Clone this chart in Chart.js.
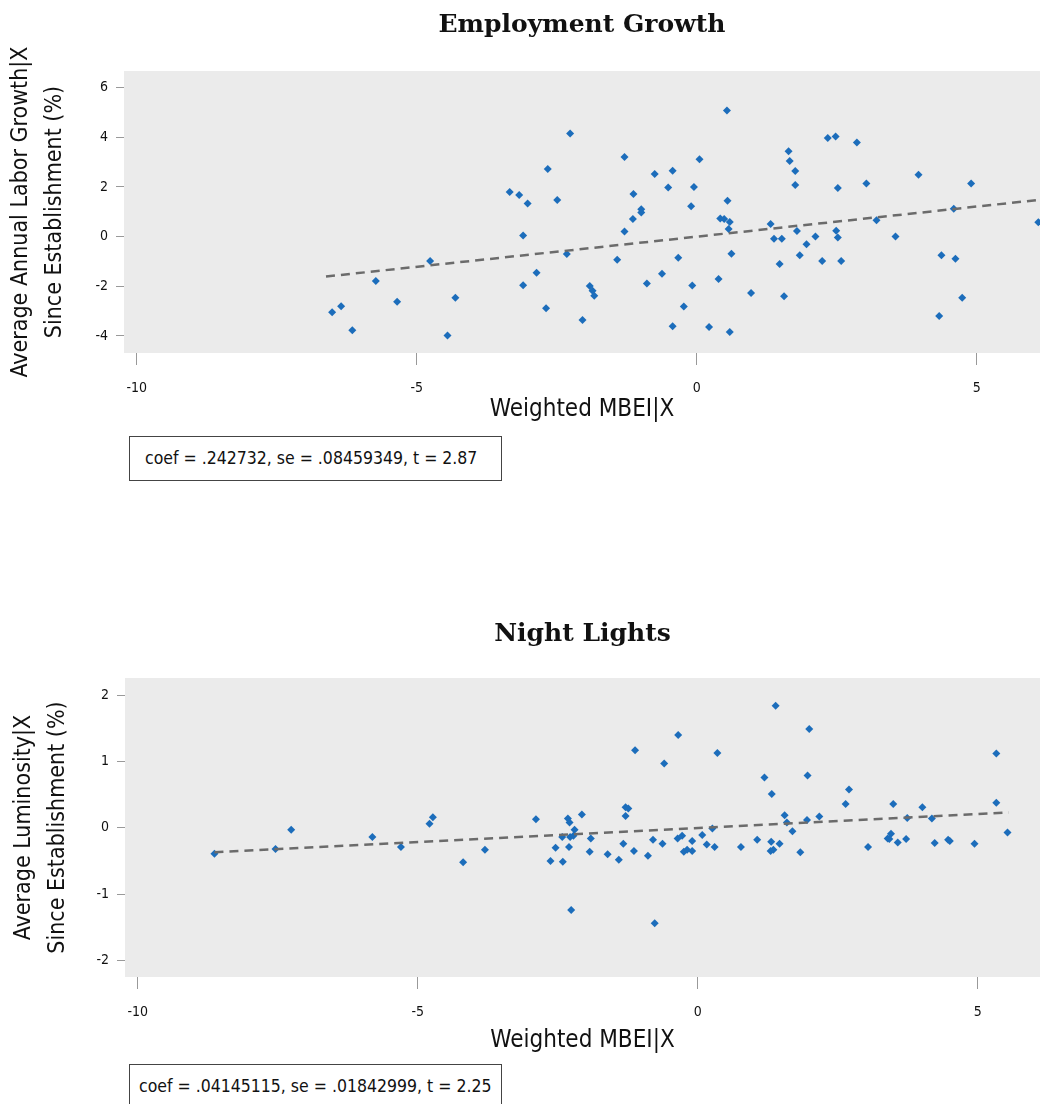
<!DOCTYPE html>
<html>
<head>
<meta charset="utf-8">
<script src="https://cdn.jsdelivr.net/npm/chart.js@4.4.0/dist/chart.umd.min.js"></script>
<style>
  html, body { margin: 0; padding: 0; background: #fff; }
  body { width: 1040px; height: 1104px; position: relative; overflow: hidden; }
  .wrap { position: absolute; left: 0; width: 1040px; }
  .statbox {
    position: absolute; left: 129px; width: 373px; height: 45px;
    border: 1px solid #444; box-sizing: border-box; background: #fff;
    font-family: 'Liberation Sans Narrow', 'DejaVu Sans Condensed', Roboto, sans-serif;
    font-size: 17.5px; color: #111; line-height: 43px; white-space: nowrap;
  }
</style>
</head>
<body>
<div class="wrap" style="top:0;height:430px"><canvas id="empChart"></canvas></div>
<div class="statbox" style="top:436px;padding-left:15px">coef = .242732, se = .08459349, t = 2.87</div>
<div class="wrap" style="top:600px;height:460px"><canvas id="lightsChart"></canvas></div>
<div class="statbox" style="top:1064px;padding-left:9px">coef = .04145115, se = .01842999, t = 2.25</div>

<script>
// --- Employment Growth (top panel) ---
const empX = [-6.51, -6.35, -6.15, -5.73, -5.35, -4.76, -4.45, -4.31, -3.34, -3.17,
  -3.02, -3.10, -3.10, -2.86, -2.66, -2.49, -2.69, -2.32, -2.26, -2.04,
  -1.91, -1.86, -1.83, -1.42, -1.29, -1.29, -1.13, -1.14, -0.99, -0.99,
  -0.89, -0.75, -0.62, -0.51, -0.43, -0.43, -0.33, -0.23, -0.10, -0.08,
  -0.05, 0.05, 0.22, 0.39, 0.42, 0.49, 0.54, 0.55, 0.59, 0.57,
  0.62, 0.59, 0.97, 1.32, 1.38, 1.52, 1.48, 1.56, 1.64, 1.66,
  1.76, 1.76, 1.79, 1.84, 1.96, 2.12, 2.24, 2.34, 2.48, 2.52,
  2.49, 2.52, 2.58, 2.86, 3.03, 3.21, 3.55, 3.96, 4.33, 4.37,
  4.59, 4.62, 4.74, 4.90, 6.10];
const empY = [-3.05, -2.81, -3.77, -1.79, -2.63, -0.98, -3.99, -2.46, 1.80, 1.67,
  1.33, 0.04, -1.96, -1.46, 2.72, 1.47, -2.89, -0.70, 4.15, -3.36,
  -1.99, -2.18, -2.38, -0.93, 3.21, 0.20, 1.72, 0.71, 1.10, 0.97,
  -1.89, 2.52, -1.50, 1.98, 2.65, -3.61, -0.85, -2.82, 1.22, -1.97,
  2.00, 3.11, -3.64, -1.71, 0.73, 0.71, 5.08, 1.44, 0.59, 0.31,
  -0.69, -3.84, -2.27, 0.51, -0.09, -0.09, -1.10, -2.40, 3.44, 3.04,
  2.64, 2.08, 0.22, -0.75, -0.31, 0.00, -0.98, 3.97, 4.03, 1.96,
  0.23, -0.04, -0.98, 3.79, 2.14, 0.66, 0.00, 2.49, -3.20, -0.75,
  1.12, -0.89, -2.46, 2.14, 0.58];
const empFitX = [-6.62, 6.2];
const empFitY = [-1.61, 1.50];
const empXTicks = [-10, -5, 0, 5];
const empYTicks = [-4, -2, 0, 2, 4, 6];

// --- Night Lights (bottom panel) ---
const lightX = [-8.63, -7.54, -7.26, -5.81, -5.30, -4.79, -4.73, -4.19, -3.80, -2.89,
  -2.63, -2.54, -2.41, -2.42, -2.32, -2.29, -2.30, -2.28, -2.26, -2.22,
  -2.20, -2.07, -1.93, -1.91, -1.61, -1.41, -1.33, -1.29, -1.24, -1.29,
  -1.14, -1.12, -0.89, -0.80, -0.77, -0.63, -0.60, -0.35, -0.36, -0.28,
  -0.25, -0.19, -0.10, -0.10, 0.08, 0.16, 0.26, 0.30, 0.35, 0.77,
  1.06, 1.19, 1.31, 1.30, 1.35, 1.32, 1.39, 1.46, 1.55, 1.59,
  1.69, 1.83, 1.96, 1.95, 1.99, 2.17, 2.64, 2.70, 3.04, 3.39,
  3.45, 3.42, 3.49, 3.57, 3.72, 3.74, 4.01, 4.18, 4.23, 4.47,
  4.50, 4.94, 5.33, 5.33, 5.53];
const lightY = [-0.39, -0.32, -0.03, -0.14, -0.29, 0.06, 0.16, -0.52, -0.33, 0.13,
  -0.50, -0.30, -0.51, -0.14, 0.14, 0.08, -0.29, -0.14, -1.24, -0.12,
  -0.03, 0.20, -0.36, -0.16, -0.40, -0.48, -0.24, 0.31, 0.29, 0.18,
  -0.35, 1.17, -0.42, -0.18, -1.44, -0.24, 0.97, 1.40, -0.16, -0.12,
  -0.36, -0.33, -0.35, -0.20, -0.11, -0.25, -0.01, -0.29, 1.13, -0.29,
  -0.18, 0.76, -0.21, -0.35, -0.33, 0.51, 1.84, -0.24, 0.19, 0.08,
  -0.05, -0.37, 0.79, 0.12, 1.49, 0.17, 0.36, 0.58, -0.29, -0.16,
  -0.09, -0.17, 0.36, -0.22, -0.17, 0.15, 0.31, 0.14, -0.23, -0.18,
  -0.20, -0.24, 1.12, 0.38, -0.07];
const lightFitX = [-8.63, 5.55];
const lightFitY = [-0.367, 0.231];
const lightXTicks = [-10, -5, 0, 5];
const lightYTicks = [-2, -1, 0, 1, 2];

const narrow = "'Liberation Sans Narrow', 'DejaVu Sans Condensed', Roboto, sans-serif";
const serif = "'DejaVu Serif', 'Liberation Serif', serif";
const dotColor = '#1c6dbb';

// fundo cinza só na área do gráfico
const plotBg = {
  id: 'plotBg',
  beforeDraw(chart) {
    const a = chart.chartArea, ctx = chart.ctx;
    ctx.save();
    ctx.fillStyle = '#ebebeb';
    ctx.fillRect(a.left, a.top, a.right - a.left, a.bottom - a.top);
    ctx.restore();
  }
};

function toPts(xs, ys) {
  return xs.map((x, i) => ({ x: x, y: ys[i] }));
}

function makeChart(id, cfg) {
  const ctx = document.getElementById(id).getContext('2d');
  return new Chart(ctx, {
    type: 'scatter',
    data: {
      datasets: [
        {
          data: toPts(cfg.xs, cfg.ys),
          pointStyle: 'rectRot',
          pointRadius: 4,
          pointBorderWidth: 0,
          backgroundColor: dotColor,
          borderColor: dotColor,
          order: 2
        },
        {
          type: 'line',
          data: toPts(cfg.fitX, cfg.fitY),
          borderColor: '#6b6b6b',
          borderWidth: 2.5,
          borderDash: [9, 6],
          pointRadius: 0,
          fill: false,
          order: 1
        }
      ]
    },
    options: {
      responsive: true,
      maintainAspectRatio: false,
      animation: false,
      layout: { padding: 0, autoPadding: false },
      plugins: {
        legend: { display: false },
        tooltip: { enabled: false },
        title: {
          display: true,
          text: cfg.title,
          fullSize: false,
          color: '#111',
          font: { family: serif, size: 25, weight: 'bold', lineHeight: 1.2 },
          padding: cfg.titlePad
        }
      },
      scales: {
        x: {
          type: 'linear',
          min: cfg.xMin, max: cfg.xMax,
          afterBuildTicks: s => { s.ticks = cfg.xTicks.map(v => ({ value: v })); },
          afterFit: s => { s.height = cfg.xHeight; },
          border: { display: false },
          grid: { drawOnChartArea: false, drawTicks: true, tickLength: 12, color: '#999', lineWidth: 1 },
          ticks: { color: '#111', padding: 15, maxRotation: 0, font: { family: narrow, size: 14 } },
          title: {
            display: true, text: 'Weighted MBEI|X', color: '#111',
            font: { family: narrow, size: 24, lineHeight: 1.2 },
            padding: { top: 0, bottom: cfg.xTitleBottom }
          }
        },
        y: {
          type: 'linear',
          min: cfg.yMin, max: cfg.yMax,
          afterBuildTicks: s => { s.ticks = cfg.yTicks.map(v => ({ value: v })); },
          afterFit: s => { s.width = cfg.yWidth; },
          border: { display: false },
          grid: { drawOnChartArea: false, drawTicks: true, tickLength: 8, color: '#999', lineWidth: 1 },
          ticks: { color: '#111', padding: 8, font: { family: narrow, size: 14 } },
          title: {
            display: true, text: cfg.yTitle, color: '#111',
            font: { family: narrow, size: 23, lineHeight: 34 / 23 },
            padding: { top: cfg.yTitleTop, bottom: 0 }
          }
        }
      }
    },
    plugins: [plotBg]
  });
}

makeChart('empChart', {
  xs: empX, ys: empY, fitX: empFitX, fitY: empFitY,
  xTicks: empXTicks, yTicks: empYTicks,
  xMin: -10.227, xMax: 6.13, yMin: -4.69, yMax: 6.67,
  title: 'Employment Growth', titlePad: { top: 10, bottom: 31 },
  yTitle: ['Average Annual Labor Growth|X', 'Since Establishment (%)'],
  xHeight: 77, xTitleBottom: 6, yWidth: 124, yTitleTop: 4
});

makeChart('lightsChart', {
  xs: lightX, ys: lightY, fitX: lightFitX, fitY: lightFitY,
  xTicks: lightXTicks, yTicks: lightYTicks,
  xMin: -10.227, xMax: 6.11, yMin: -2.25, yMax: 2.26,
  title: 'Night Lights', titlePad: { top: 19, bottom: 29 },
  yTitle: ['Average Luminosity|X', 'Since Establishment (%)'],
  xHeight: 83, xTitleBottom: 5, yWidth: 125, yTitleTop: 7
});
</script>
</body>
</html>
